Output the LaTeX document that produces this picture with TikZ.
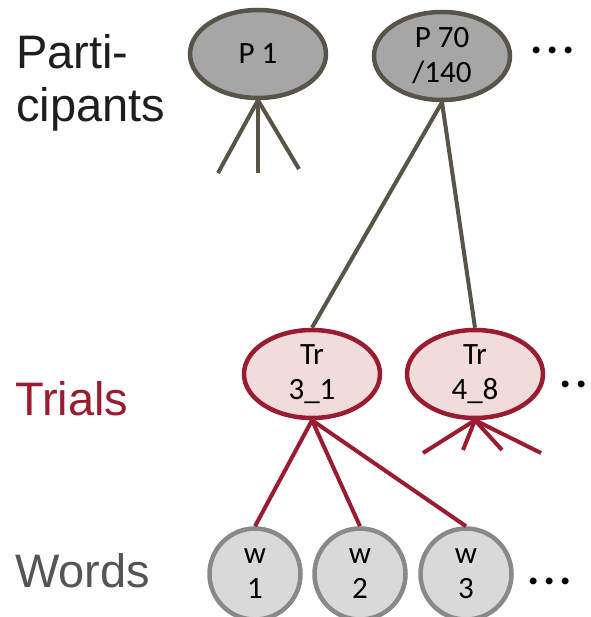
\documentclass[tikz,border=0pt]{standalone}
\usepackage{fontspec}
\setmainfont{Liberation Sans}
\newfontfamily\nodefont{Carlito}
\usetikzlibrary{shapes.geometric}
\definecolor{pline}{RGB}{89,84,72}
\definecolor{pfill}{RGB}{166,166,166}
\definecolor{trline}{RGB}{155,27,48}
\definecolor{trfill}{RGB}{242,220,219}
\definecolor{wline}{RGB}{137,137,137}
\definecolor{wfill}{RGB}{217,217,217}
\definecolor{wordtxt}{RGB}{85,85,85}
\definecolor{parttxt}{RGB}{30,30,30}
\tikzset{
  nodetext/.style={font=\nodefont\fontsize{31}{35}\selectfont, align=center, inner sep=0pt, text=black},
  pnode/.style={nodetext, ellipse, draw=pline, fill=pfill, line width=4.5pt, minimum width=136pt, minimum height=88pt},
  trnode/.style={nodetext, ellipse, draw=trline, fill=trfill, line width=4.5pt, minimum width=136pt, minimum height=88pt},
  wnode/.style={nodetext, circle, draw=wline, fill=wfill, line width=4.5pt, minimum size=91pt},
  plink/.style={draw=pline, line width=4pt},
  trlink/.style={draw=trline, line width=4pt},
  rowlabel/.style={font=\fontsize{47}{53}\selectfont, align=left, inner sep=0pt, anchor=base west},
  dotsnode/.style={font=\nodefont\fontsize{46}{46}\selectfont\bfseries, inner sep=0pt, anchor=base west, text=black}
}
\begin{document}
\begin{tikzpicture}[x=1pt,y=-1pt]
\clip (0,0) rectangle (590,617);
\fill[white] (0,0) rectangle (590,617);
% participants
\node[pnode] (p1) at (258,54) {P 1};
\node[pnode] (p70) at (442,56) {P 70\\/140};
\node[dotsnode] (pdots) at (530,54) {.\kern4pt.\kern4pt.};
% trials
\node[trnode] (tr31) at (312,374) {Tr\\3\_1};
\node[trnode] (tr48) at (475,374) {Tr\\4\_8};
\node[dotsnode] (trdots) at (559,387) {.\kern4pt.\kern4pt.};
% words
\node[wnode] (w1) at (255,574) {w\\1};
\node[wnode] (w2) at (360,574) {w\\2};
\node[wnode] (w3) at (466,574) {w\\3};
\node[dotsnode] (wdots) at (527,584) {.\kern4pt.\kern4pt.};
% row labels
\node[rowlabel, text=parttxt] (lpart) at (16,122) {Parti-\\cipants};
\node[rowlabel, text=trline] (ltrials) at (15,415) {Trials};
\node[rowlabel, text=wordtxt] (lwords) at (15,587) {Words};
% free ends
\coordinate (a1) at (218,173);
\coordinate (a2) at (258,173);
\coordinate (a3) at (299,169);
\coordinate (b1) at (423,453);
\coordinate (b2) at (463,450);
\coordinate (b3) at (502,450);
\coordinate (b4) at (541,453);
% links
\draw[plink] (p1.south) -- (a1);
\draw[plink] (p1.south) -- (a2);
\draw[plink] (p1.south) -- (a3);
\draw[plink] (p70.south) -- (tr31.north);
\draw[plink] (p70.south) -- (tr48.north);
\draw[trlink] (tr31.south) -- (w1.north);
\draw[trlink] (tr31.south) -- (w2.north);
\draw[trlink] (tr31.south) -- (w3.north);
\draw[trlink] (tr48.south) -- (b1);
\draw[trlink] (tr48.south) -- (b2);
\draw[trlink] (tr48.south) -- (b3);
\draw[trlink] (tr48.south) -- (b4);
\end{tikzpicture}
\end{document}
